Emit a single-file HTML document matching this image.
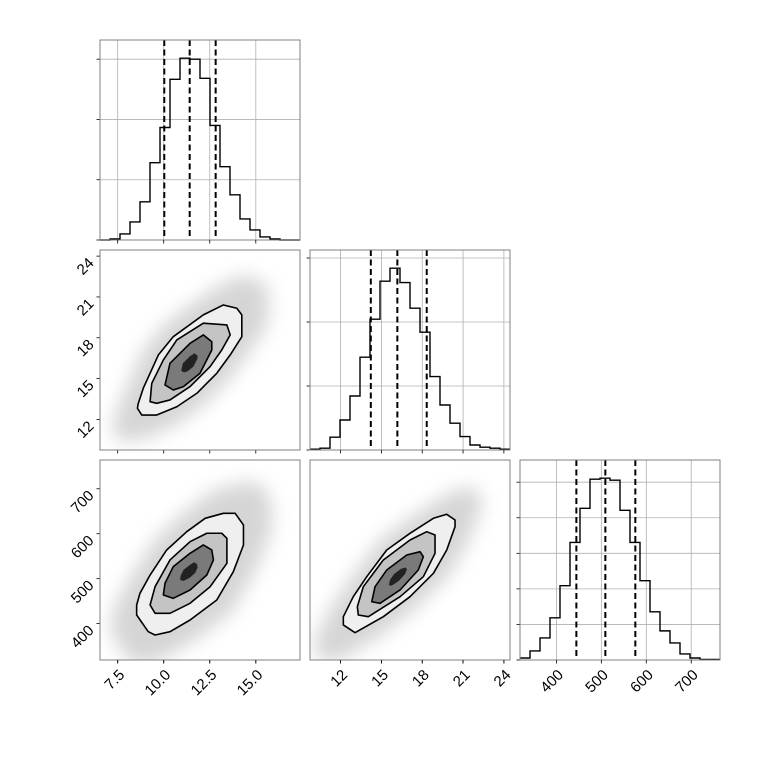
<!DOCTYPE html>
<html><head><meta charset="utf-8"><style>
html,body{margin:0;padding:0;background:#fff;}
svg{display:block;font-family:"Liberation Sans",sans-serif;}
</style></head><body>
<svg id="c" width="760" height="760" viewBox="0 0 760 760" xmlns="http://www.w3.org/2000/svg">
<defs><filter id="blur" x="-50%" y="-50%" width="200%" height="200%"><feGaussianBlur stdDeviation="9"/></filter></defs>
</svg>
<script>
// ranges per parameter
const rangeA=[6.54,17.4], rangeB=[9.75,24.45], rangeC=[319,764];
// histogram counts (20 bins each)
const histA=[0,5,30,90,190,385,560,800,905,900,805,570,365,225,105,50,15,5,0,0];
const histB=[4,9,64,150,270,464,654,844,909,837,709,589,367,225,134,67,25,14,9,4];
const histC=[10,45,110,210,370,585,755,900,905,895,745,585,395,240,145,85,30,10,3,3];
// quantiles (dashed lines)
const quantA=[10.03,11.41,12.82];
const quantB=[14.22,16.17,18.33];
const quantC=[444.4,508.9,575.6];
// tick values
const ticksA=[7.5,10.0,12.5,15.0];
const tickLabelsA=["7.5","10.0","12.5","15.0"];
const ticksB=[12,15,18,21,24];
const tickLabelsB=["12","15","18","21","24"];
const ticksC=[400,500,600,700];
const tickLabelsC=["400","500","600","700"];
const histTicksA=[0,300,600,900];
const histTicksB=[0,320,640,960];
const histTicksC=[0,177,354,531,708,885];
// contours (data coordinates) : x,y pairs
const contAB_outer=[[8.62,13.18],[8.89,14.29],[9.71,16.74],[10.52,18.08],[12.15,19.68],[13.24,20.41],[13.97,20.17],[14.24,19.68],[14.24,18.08],[13.61,16.74],[12.88,15.39],[11.80,13.92],[10.71,12.93],[9.62,12.32],[8.81,12.32],[8.57,12.82]];
const contAB_mid=[[9.26,13.30],[9.35,14.65],[9.98,16.37],[10.71,17.84],[12.15,19.07],[13.43,18.94],[13.61,18.21],[13.15,17.10],[12.52,15.88],[11.43,14.41],[10.34,13.43],[9.62,13.18]];
const contAB_in=[[10.07,14.53],[10.34,16.12],[11.43,17.59],[12.15,18.21],[12.61,17.71],[12.61,17.10],[11.97,15.39],[11.07,14.41],[10.52,14.16]];
const contAC_outer=[[8.53,441.4],[8.53,419.1],[9.16,382.0],[9.53,374.6],[10.34,382.0],[11.43,408.0],[12.88,452.5],[13.78,515.5],[14.33,574.9],[14.33,619.4],[13.88,645.4],[13.24,645.4],[12.25,634.3],[11.25,604.5],[10.16,563.8],[9.26,508.1],[8.71,467.4]];
const contAC_mid=[[9.26,441.4],[9.53,422.9],[10.34,422.9],[11.43,445.2],[12.52,482.1],[13.43,534.2],[13.43,589.8],[13.15,601.0],[12.34,601.0],[11.43,582.3],[10.34,541.6],[9.53,482.1]];
const contAC_in=[[9.98,463.6],[10.52,456.2],[11.43,474.8],[12.34,508.1],[12.70,541.6],[12.61,563.8],[12.15,574.9],[11.43,556.4],[10.52,526.8],[10.07,489.8]];
const contBC_outer=[[12.20,415.4],[12.20,397.0],[13.06,379.8],[15.14,415.4],[17.10,459.9],[18.82,511.9],[19.80,563.8],[20.41,615.6],[20.41,630.5],[19.80,643.2],[18.82,634.3],[17.10,600.9],[15.39,563.8],[13.92,504.4],[12.93,459.9]];
const contBC_mid=[[13.30,419.1],[14.04,415.4],[16.37,459.9],[18.08,504.4],[18.94,556.4],[18.94,597.1],[18.33,604.5],[17.10,586.0],[15.14,541.6],[13.67,482.1],[13.23,437.6]];
const contBC_in=[[14.29,448.7],[14.90,445.2],[16.37,474.8],[17.71,519.3],[18.08,548.9],[17.84,560.0],[16.86,552.6],[15.39,519.3],[14.53,482.1]];

const svg=document.getElementById('c');
const NS='http://www.w3.org/2000/svg';
const ranges=[rangeA,rangeB,rangeC];
const hists=[histA,histB,histC];
const quants=[quantA,quantB,quantC];
const ticks=[ticksA,ticksB,ticksC];
const tickLabels=[tickLabelsA,tickLabelsB,tickLabelsC];
const histTicks=[histTicksA,histTicksB,histTicksC];
const L0=100,T0=40,S=200,G=210;
function px0(c){return L0+G*c;}
function py0(r){return T0+G*r;}
function sx(c,v){const R=ranges[c];return px0(c)+(v-R[0])/(R[1]-R[0])*S;}
function sy(r,v){const R=ranges[r];return py0(r)+S-(v-R[0])/(R[1]-R[0])*S;}
function hy(r,v,max){return py0(r)+S-v/(1.1*max)*S;}
function mk(tag,attrs,parent){const e=document.createElementNS(NS,tag);for(const k in attrs)e.setAttribute(k,attrs[k]);(parent||svg).appendChild(e);return e;}

// diagonal histograms
for(let i=0;i<3;i++){
  const g=mk('g',{});
  
  
  const x0=px0(i),y0=py0(i),h=hists[i],max=Math.max(...h);
  // grid
  ticks[i].forEach(t=>{const x=sx(i,t);if(x>x0&&x<x0+S){const l=mk('line',{x1:x,x2:x,y1:y0,y2:y0+S,stroke:'#b0b0b0','stroke-width':0.8},g);}});
  histTicks[i].forEach(t=>{const y=hy(i,t,max);if(t>0){const l=mk('line',{x1:x0,x2:x0+S,y1:y,y2:y,stroke:'#b0b0b0','stroke-width':0.8},g);}
    const tk=mk('line',{x1:x0-3.5,x2:x0,y1:y,y2:y,stroke:'#000','stroke-width':0.8},g);});
  // step path
  const R=ranges[i],n=h.length,bw=(R[1]-R[0])/n;
  let d='';
  for(let b=0;b<n;b++){const xa=sx(i,R[0]+b*bw),xb=sx(i,R[0]+(b+1)*bw),y=hy(i,h[b],max);d+=(b===0?'M'+xa+','+y:'L'+xa+','+y)+'L'+xb+','+y;}
  const p=mk('path',{d:d,fill:'none',stroke:'#000','stroke-width':1.4},g);
  
  
  quants[i].forEach(q=>{const x=sx(i,q);const l=mk('line',{x1:x,x2:x,y1:y0,y2:y0+S,stroke:'#000','stroke-width':2,'stroke-dasharray':'6,3.5'},g);
    
    });
  const f=mk('rect',{x:x0,y:y0,width:S,height:S,fill:'none',stroke:'#808080','stroke-width':1},g);
  
  
}

// 2D panels
const pairs=[[0,1,contAB_outer,contAB_mid,contAB_in],[0,2,contAC_outer,contAC_mid,contAC_in],[1,2,contBC_outer,contBC_mid,contBC_in]];
pairs.forEach((pp,k)=>{
  const c=pp[0],r=pp[1];
  const g=mk('g',{});
  
  
  const x0=px0(c),y0=py0(r);
  const cid='clip'+k;
  const cp=mk('clipPath',{id:cid},svg);mk('rect',{x:x0,y:y0,width:S,height:S},cp);
  const inner=mk('g',{'clip-path':'url(#'+cid+')'},g);
  function pts(arr,scale){let cx=0,cy=0;arr.forEach(a=>{cx+=a[0];cy+=a[1];});cx/=arr.length;cy/=arr.length;
    return arr.map(a=>sx(c,cx+(a[0]-cx)*scale)+','+sy(r,cy+(a[1]-cy)*scale)).join(' ');}
  const cloud=mk('polygon',{points:pts(pp[2],1.5),fill:'#c8c8c8',opacity:0.75,filter:'url(#blur)'},inner);
  
  
  const fills=['#efefef','#c4c4c4','#7a7a7a'];
  [pp[2],pp[3],pp[4]].forEach((arr,j)=>{
    const pg=mk('polygon',{points:pts(arr,1),fill:fills[j],stroke:'#000','stroke-width':1.6,'stroke-linejoin':'round'},inner);
    
    
  });
  const core=mk('polygon',{points:pts(pp[4],0.35),fill:'#222'},inner);
  
  
  ticks[c].forEach(t=>{const x=sx(c,t);const l=mk('line',{x1:x,x2:x,y1:y0+S,y2:y0+S+3.5,stroke:'#000','stroke-width':0.8},g);});
  ticks[r].forEach(t=>{const y=sy(r,t);if(c===0){const l=mk('line',{x1:x0-3.5,x2:x0,y1:y,y2:y,stroke:'#000','stroke-width':0.8},g);}});
  const f=mk('rect',{x:x0,y:y0,width:S,height:S,fill:'none',stroke:'#808080','stroke-width':1},g);
  
  
});
// x ticks for diagonal hist bottoms
for(let i=0;i<2;i++){ticks[i].forEach(t=>{const x=sx(i,t);const l=mk('line',{x1:x,x2:x,y1:py0(i)+S,y2:py0(i)+S+3.5,stroke:'#000','stroke-width':0.8});});}
for(let i=0;i<3;i++){ticks[i].forEach(t=>{const x=sx(i,t);const l=mk('line',{x1:x,x2:x,y1:py0(2)+S,y2:py0(2)+S+3.5,stroke:'#000','stroke-width':0.8});});}

// x tick labels (bottom row)
for(let i=0;i<3;i++){
  ticks[i].forEach((t,j)=>{const x=sx(i,t),y=py0(2)+S+10;
    const tx=mk('text',{x:0,y:0,dy:'0.35em','text-anchor':'end','font-size':15,transform:'translate('+(x+4)+','+(y+2)+') rotate(-45)'});
    tx.textContent=tickLabels[i][j];
    
    });
}
// y tick labels (left column)
for(let r=1;r<3;r++){
  ticks[r].forEach((t,j)=>{const y=sy(r,t);
    const tx=mk('text',{x:0,y:0,dy:'0.35em','text-anchor':'end','font-size':15,transform:'translate('+(px0(0)-9)+','+(y+4)+') rotate(-45)'});
    tx.textContent=tickLabels[r][j];
    
    });
}
</script>
</body></html>
